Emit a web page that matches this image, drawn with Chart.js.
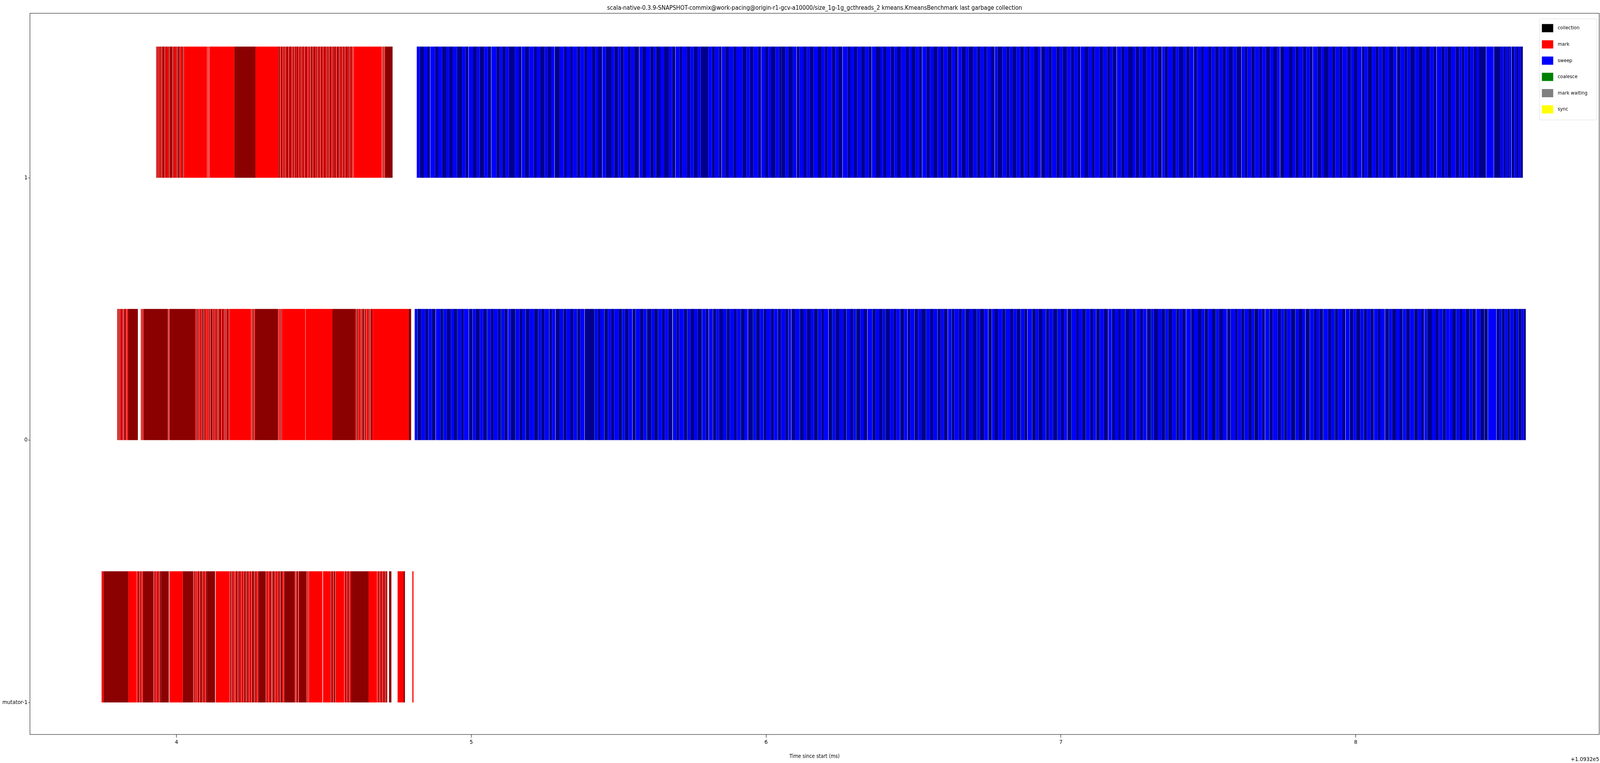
<!DOCTYPE html>
<html>
<head>
<meta charset="utf-8">
<script src="https://cdn.jsdelivr.net/npm/chart.js@4/dist/chart.umd.min.js"></script>
<style>
  html, body { margin: 0; padding: 0; background: #fff; overflow: hidden; }
  #wrap { position: fixed; left: 0; top: 0; width: 100vw; height: 100vh; }
</style>
</head>
<body>
<div id="wrap"><canvas id="chart"></canvas></div>
<script>
// rows, bottom to top
const rowLabels = ['mutator-1', '0', '1'];
const xTicks = [4, 5, 6, 7, 8];
const offsetText = '+1.0932e5';

// phase streams: start (ms since 1.0932e5), then durations in µs
// positive = light shade, negative = dark shade, [n] = gap, 'c' = coalesce (1 µs)
const mutatorMarkStart = 3.746;
const mutatorMark = [6, -85, 28, [1], 3, -4, [1], 5, -3, [1], 3, -36, [1], 4, -3, [1], 5, -4, [1], 3, -4, -26, [2], 45, -36,
  [1], 4, -3, [1], 5, [1], -4, 3, [1], -5, 4, [1], -3, 5, [1], -4, -28, [2], 45,
  3, [1], -4, [1], 5, -3, [1], 4, [1], -5, 3, [1], -4, 6, [1], -3, 4, [1], -5, 3, [1], -4, 5, [1], -3, 4, [1], -6, 3, [1], -4, 5, [1], -3,
  -24, [1], 4, -3, [1], 5, -4, [1], 3, [1], -5, 4, [1], -3, 5, [1], -4, 3, [1], -6, 4, [1], -3, -35,
  [1], 3, [1], -4, 3, [1], -25, 3, [1], -3, [1], 2, 45, [2], 27, [1], -4, 3, [1], -5, [1], 30,
  [1], 3, -4, [1], 5, -3, [1], 4, -3, -58, 28, [1], 4, -3, [1], 5, -4, [1], 3, -5, [1], 4, -3,
  [6], -8, [21], 20, -5, [25], 4];

const row0MarkStart = 3.799;
const row0Mark = [4, [1], -3, [1], 5, -4, [1], 3, [1], -5, 4, [1], 3, -34, [10], 2, [1], -3, [1], 3, -82, [1], 3, [1], -88,
  3, [1], -4, [1], 5, [1], -3, 4, [1], -5, [1], 3, -4, [1], 6, [1], -3, 4, [1], -5, 3, [1], -4, [1], 5, -3, [1], 4, [1], -6, 3, [1], -4, 5, [1], -3, [1], 4, -5, [1], 3,
  72, [1], 3, [1], -4, [1], 3, -79, [1], 4, [1], -3, [1], 5, 77, [1], 91, -78,
  3, [1], -4, [1], 5, -3, [1], 4, [1], -5, 3, [1], -4, [1], 6, -3, [1], 4, [1], -5, 3, 120, -9];

const row1MarkStart = 3.931;
const row1Mark = [3, [1], -4, [1], 5, -3, [1], 4, -5, 3, [1], -4, 5, -3, [1], 4, -6, 3, [1], -4, 5, -3, [1], 4, -5, [1], 6, -4, [1], 3,
  78, [1], 3, [1], 2, [1], 84, -72, 79,
  -4, [1], 3, -5, [1], 4, -3, [1], 5, -4, 3, [1], -6, 4, [1], -3, 5, [1], -4, 3, -5, [1], 4, -3, [1], 6, -4, [1], 3, -5, 4, [1], -3, 5, [1],
  -4, 3, [1], -6, 4, -3, [1], 5, -4, [1], 3, -5, [1], 4, -3, 6, [1], -4, 3, [1], -5, 4, [1], -3, 5, -4, [1], 3, -6, [1], 4, -3, 5, [1],
  -4, 3, [1], -5, 4, -3, [1], 6, -4, [1], 3, [1], 95, [1], 3, [1], -3, [1], 2, -26];

const row0SweepStart = 4.808;
const row0Sweep = [9, 'c', -12, 14, -10, 'c', 11, -13, [1], 15, -9, 'c', 12, -14, 10,
  -11, 'c', 13, -9, 16, [1], -12, 'c', 10, -14, 11, -13, 'c', 12, -10,
  14, -10, 'c', 12, -11, [1], 9, -15, 'c', 13, -10, 11, 'c', -12, 16,
  -13, 'c', 10, -12, 15, 'c', -9, 11, [1], -14, 12, 'c', -10, 13, -11,
  12, 'c', -10, 14, [1], -32, 'c', 11, -9, 13, 'c', -12, 10, -11,
  15, -11, 'c', 9, -13, 12, [1], -10, 'c', 14, -12, 11, 'c', -15, 10,
  -12, 'c', 13, -10, 11, -14, [1], 'c', 12, -9, 16, -11, 'c', 10, -13,
  11, -15, 'c', 12, -10, [1], 13, 'c', -11, 9, -14, 12, 'c', -10, 14,
  -10, 13, 'c', -12, 11, [1], -16, 'c', 10, -13, 12, 'c', -9, 15, -11,
  12, 'c', -11, 14, -10, 'c', 9, [1], -13, 15, 'c', -12, 11, -14, 10,
  -13, 'c', 11, -9, 15, [1], -12, 'c', 10, -14, 12, -11, 'c', 13, -10,
  9, 'c', -14, 11, -12, [1], 16, 'c', -10, 13, -11, 9, 'c', -15, 12,
  -10, 12, 'c', -13, 11, [1], -9, 14, 'c', -12, 10, -16, 'c', 13, -11,
  14, 'c', -11, 10, -13, [1], 12, 'c', -9, 15, -10, 11, 'c', -14, 12,
  -12, 'c', 10, -15, 13, [1], -11, 'c', 9, -12, 14, -10, 'c', 16, -11,
  11, -13, 'c', 12, -10, [1], 15, 'c', -12, 9, -14, 11, 'c', -10, 13,
  -14, 'c', 12, -11, 10, [1], -13, 'c', 16, -9, 11, -12, 'c', 14, -10,
  10, 'c', -12, 13, -15, [1], 11, 'c', -10, 12, -9, 14, 'c', -13, 11,
  -11, 'c', 14, -10, 12, [1], -13, 'c', 9, -15, 11, -12, 'c', 10, -14,
  13, 'c', -9, 11, -12, [1], 16, 'c', -10, 12, -13, 10, 'c', -11, 14,
  -12, 'c', 10, -14, 13, [1], -11, 'c', 15, -9, 12, -10, 'c', 13, -11,
  9, 'c', -13, 12, -10, [1], 14, 'c', -11, 16, -12, 10, 'c', -9, 13,
  -15, 'c', 11, -12, 10, [1], -14, 'c', 13, -10, 9, -12, 'c', 16, -11,
  12, 'c', -10, 14, -11, [1], 13, 'c', -12, 9, -15, 11, 'c', -10, 12,
  -11, 'c', 13, -9, 15, [1], -12, 'c', 10, -14, 12, -10, 'c', 11, -13,
  14, 'c', -12, 11, -10, [1], 9, 'c', -16, 12, -11, 13, 'c', -10, 12,
  10, -12, 'c', 11, -9, 13, -11, 'c', 10, -12, [1],
  14, -13, 'c', -11, [1], 28, [1], -9, 8, 'c', -10, 9, -8, 'c', 11, -9, 8, 'c', -9, 8, -7];

const row1SweepStart = 4.815;
const row1Sweep = [10, -14, 12, -9, [1], 16, -11, 13, -15, 9, -12, 14,
  -18, 11, -10, [1], 15, -13, 9, -16, 12, -11, [1], 17, -12,
  8, -12, 10, -21, 13, -9, [1], 11, -14, 16, -10, 12,
  -15, 9, -13, 11, [1], -17, 14, -10, 12, -8, 15, -11,
  13, -10, 16, -12, 9, -14, [1], 11, -19, 10, -13, 8,
  -11, 15, -9, 12, -16, [1], 10, -13, 14, -11, 9, -15,
  12, -17, 10, -11, [1], 13, -9, 16, -12, 11, -14, 10,
  -26, 12, -10, 14, -9, [1], 11, -13, 15, -10, 12,
  9, -14, 11, -12, 16, -10, [1], 13, -11, 9, -15, 12, -8,
  -13, 10, -16, 12, [1], -9, 14, -11, 10, -13, 15, -12,
  11, -9, 15, -12, 10, -14, [1], 16, -10, 12, -11, 13,
  -14, 12, -10, [1], 13, -16, 9, -11, 15, -12, 10, -13,
  16, -11, 9, -13, 12, -10, [1], 14, -12, 11, -15, 10,
  -10, 13, -15, 11, -9, [1], 12, -14, 10, -16, 13, -11,
  12, -10, 14, -12, [1], 9, -17, 13, -11, 10, -14, 12,
  -13, 11, -9, 15, -12, 10, [1], -14, 12, -10, 16, -11,
  10, -15, 13, -11, 12, -9, [1], 14, -13, 11, -10, 16,
  -12, 14, -10, 9, -13, [1], 15, -11, 12, -16, 10, -12,
  11, -13, 16, -10, 12, -14, [1], 9, -11, 15, -12, 10,
  -15, 10, -12, 13, [1], -11, 14, -9, 16, -10, 12, -13,
  13, -11, 10, -14, 12, -16, [1], 11, -9, 13, -12, 15,
  -10, 12, -15, 11, -13, 9, [1], -14, 16, -12, 10, -11,
  14, -12, 11, -10, [1], 15, -13, 9, -16, 12, -11, 13,
  -11, 16, -13, 10, -12, 14, [1], -9, 11, -15, 12, -10,
  12, -10, 13, -15, 11, [1], -12, 14, -9, 10, -16, 13,
  -13, 11, -14, 12, -10, [1], 16, -11, 9, -13, 15, -12,
  9, -8, 12, -9, 11, -10, 8, -24, [1], 25, [1], -23, 9, -7, 7, -6, 7, [1], -9, 7, -7, 8, -7];

const legendNames = ['collection', 'mark', 'sweep', 'coalesce', 'mark waiting', 'sync'];
const legendColors = ['#000000', '#ff0000', '#0000ff', '#008000', '#808080', '#ffff00'];

const shades = {
  mark: ['#ff0000', '#8b0000'],
  sweep: ['#0000ff', '#00008b'],
  coalesce: '#008000'
};

// walk a stream into bar pieces
function addStream(bins, row, start, stream, phase) {
  let t = start;
  const y = row + 0.25;
  for (const d of stream) {
    if (Array.isArray(d)) { t += d[0] / 1000; continue; }
    if (d === 'c') {
      bins.coalesce.push({ x: [t, t + 0.001], y: y });
      t += 0.001;
      continue;
    }
    const len = Math.abs(d) / 1000;
    const key = phase + (d > 0 ? 'Light' : 'Dark');
    bins[key].push({ x: [t, t + len], y: y });
    t += len;
  }
}

const bins = { markLight: [], markDark: [], sweepLight: [], sweepDark: [], coalesce: [] };
addStream(bins, 0, mutatorMarkStart, mutatorMark, 'mark');
addStream(bins, 1, row0MarkStart, row0Mark, 'mark');
addStream(bins, 2, row1MarkStart, row1Mark, 'mark');
addStream(bins, 1, row0SweepStart, row0Sweep, 'sweep');
addStream(bins, 2, row1SweepStart, row1Sweep, 'sweep');

function ds(data, color) {
  return { data: data, backgroundColor: color, borderWidth: 0, grouped: false,
           barPercentage: 0.5, categoryPercentage: 1.0 };
}

// layout measured on the 7902 x 1953 reference; S maps it to css pixels
const S = window.innerWidth / 7902;
const SY = window.innerHeight / 1953;
const FONT = "'DejaVu Sans Condensed', 'DejaVu Sans', sans-serif";

const decor = {
  id: 'decor',
  afterDraw(chart) {
    const ctx = chart.ctx;
    const a = chart.chartArea;
    ctx.save();
    ctx.strokeStyle = '#000';
    ctx.lineWidth = 2 * S;
    ctx.strokeRect(a.left, a.top, a.right - a.left, a.bottom - a.top);

    ctx.fillStyle = '#000';
    ctx.textAlign = 'center';
    ctx.textBaseline = 'alphabetic';
    ctx.font = (30 * S) + 'px ' + FONT;
    ctx.fillText('scala-native-0.3.9-SNAPSHOT-commix@work-pacing@origin-r1-gcv-a10000/size_1g-1g_gcthreads_2 kmeans.KmeansBenchmark last garbage collection',
      (a.left + a.right) / 2, 25 * SY);
    ctx.font = (26 * S) + 'px ' + FONT;
    ctx.fillText('Time since start (ms)', (a.left + a.right) / 2, 1940 * SY);
    ctx.textAlign = 'right';
    ctx.font = (28 * S) + 'px ' + FONT;
    ctx.fillText(offsetText, a.right, 1948 * SY);

    // legend
    ctx.fillStyle = 'rgba(255,255,255,0.8)';
    ctx.strokeStyle = '#d0d0d0';
    ctx.lineWidth = 1.5 * S;
    ctx.beginPath();
    ctx.roundRect(7603 * S, 48 * SY, 282 * S, 259 * SY, 6 * S);
    ctx.fill();
    ctx.stroke();
    ctx.font = (25 * S) + 'px ' + FONT;
    ctx.textAlign = 'left';
    ctx.textBaseline = 'middle';
    legendNames.forEach((name, i) => {
      const cy = (72 + i * 41.6) * SY;
      ctx.fillStyle = legendColors[i];
      ctx.fillRect(7615 * S, cy - 10.5 * SY, 56 * S, 21 * SY);
      ctx.fillStyle = '#000';
      ctx.fillText(name, 7693 * S, cy);
    });
    ctx.restore();
  }
};

new Chart(document.getElementById('chart'), {
  type: 'bar',
  data: {
    datasets: [
      ds(bins.markLight, shades.mark[0]),
      ds(bins.markDark, shades.mark[1]),
      ds(bins.sweepLight, shades.sweep[0]),
      ds(bins.sweepDark, shades.sweep[1]),
      ds(bins.coalesce, shades.coalesce)
    ]
  },
  options: {
    indexAxis: 'y',
    responsive: true,
    maintainAspectRatio: false,
    animation: false,
    layout: { padding: { top: 34 * SY, right: 4 * S, left: 0, bottom: 0 } },
    plugins: { legend: { display: false }, title: { display: false }, tooltip: { enabled: false } },
    scales: {
      x: {
        type: 'linear',
        min: 3.503,
        max: 8.826,
        afterBuildTicks: s => { s.ticks = xTicks.map(v => ({ value: v })); },
        afterFit: s => { s.height = 73 * SY; },
        grid: { drawOnChartArea: false, color: '#000', tickLength: 8 * SY, offset: false },
        border: { display: false },
        ticks: { color: '#000', font: { family: FONT, size: 28 * S }, padding: 4 * SY, callback: v => String(v) }
      },
      y: {
        type: 'linear',
        offset: false,
        min: -0.122,
        max: 2.627,
        afterBuildTicks: s => { s.ticks = rowLabels.map((_, i) => ({ value: i })); },
        afterFit: s => { s.width = 148 * S; },
        grid: { drawOnChartArea: false, color: '#000', tickLength: 8 * S, offset: false },
        border: { display: false },
        ticks: { color: '#000', font: { family: FONT, size: 28 * S }, padding: 4 * S,
                 callback: v => rowLabels[v] }
      }
    }
  },
  plugins: [decor]
});
</script>
</body>
</html>
